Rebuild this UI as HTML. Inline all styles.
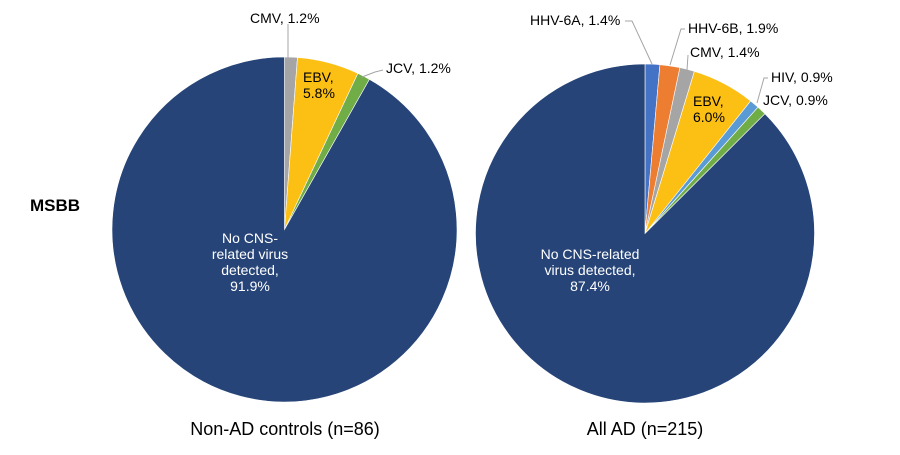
<!DOCTYPE html>
<html><head><meta charset="utf-8"><style>
html,body{margin:0;padding:0;background:#fff;}
svg text{font-family:"Liberation Sans",Arial,sans-serif;}
</style></head><body>
<svg id="c" width="900" height="450" viewBox="0 0 900 450">
<text x="30" y="211" font-size="17" font-weight="bold" fill="#000">MSBB</text>
<text x="285" y="435" font-size="18" text-anchor="middle" fill="#000">Non-AD controls (n=86)</text>
<text x="645" y="435" font-size="18" text-anchor="middle" fill="#000">All AD (n=215)</text>
</svg>
<script>
const leftCats = ["CMV","EBV","JCV","No CNS-related virus detected"];
const leftVals = [1.2,5.8,1.2,91.9];
const rightCats = ["HHV-6A","HHV-6B","CMV","EBV","HIV","JCV","No CNS-related virus detected"];
const rightVals = [1.4,1.9,1.4,6.0,0.9,0.9,87.4];
const colorMap = {"HHV-6A":"#4472c4","HHV-6B":"#ed7d31","CMV":"#a5a5a5","EBV":"#fcbf14","HIV":"#5b9bd5","JCV":"#70ad47","No CNS-related virus detected":"#264478"};
const NS="http://www.w3.org/2000/svg";
const svg=document.getElementById('c');
function pt(cx,cy,r,f){const a=f*2*Math.PI-Math.PI/2;return [cx+r*Math.cos(a),cy+r*Math.sin(a)];}
function drawPie(cx,cy,r,cats,vals,prefix){
  const tot=vals.reduce((a,b)=>a+b,0);let acc=0;
  cats.forEach((c,i)=>{
    const f0=acc/tot;acc+=vals[i];const f1=acc/tot;
    const p0=pt(cx,cy,r,f0),p1=pt(cx,cy,r,f1);
    const large=(f1-f0)>0.5?1:0;
    const p=document.createElementNS(NS,'path');
    p.setAttribute('d',`M${cx},${cy}L${p0[0]},${p0[1]}A${r},${r} 0 ${large} 1 ${p1[0]},${p1[1]}Z`);
    p.setAttribute('fill',colorMap[c]);
    p.setAttribute('stroke','#fff');p.setAttribute('stroke-width','0.6');
    
    
    svg.appendChild(p);
  });
}
drawPie(284.5,229.5,172.5,leftCats,leftVals,'left');
drawPie(645,233.5,169.5,rightCats,rightVals,'right');
function line(pts){const l=document.createElementNS(NS,'polyline');l.setAttribute('points',pts);l.setAttribute('fill','none');l.setAttribute('stroke','#a5a5a5');l.setAttribute('stroke-width','1');


svg.appendChild(l);}
function label(lines,x,y,fill,anchor,name){const t=document.createElementNS(NS,'text');t.setAttribute('x',x);t.setAttribute('y',y);t.setAttribute('font-size','14');t.setAttribute('fill',fill);t.setAttribute('text-anchor',anchor||'start');
lines.forEach((s,i)=>{const ts=document.createElementNS(NS,'tspan');ts.setAttribute('x',x);ts.setAttribute('dy',i?16:0);ts.textContent=s;t.appendChild(ts);});


svg.appendChild(t);}
line("288,24 288,58");
label(["CMV, "+leftVals[0]+"%"],250,23,"#000","start","left-label-cmv");
label(["EBV,",leftVals[1].toFixed(1)+"%"],303,82,"#000","start","left-label-ebv");
line("383,70 375,72 362,77");
label(["JCV, "+leftVals[2]+"%"],386,73,"#000","start","left-label-jcv");
label(["No CNS-","related virus","detected,",leftVals[3]+"%"],250,243,"#fff","middle","left-label-none");
line("625,21 632,21 652,64");
label(["HHV-6A, "+rightVals[0]+"%"],530,25,"#000","start","right-label-hhv6a");
line("685,29 681,29 670,65");
label(["HHV-6B, "+rightVals[1]+"%"],688,33,"#000","start","right-label-hhv6b");
line("688,55 687,70");
label(["CMV, "+rightVals[2]+"%"],690,57,"#000","start","right-label-cmv");
label(["EBV,",rightVals[3].toFixed(1)+"%"],693,106,"#000","start","right-label-ebv");
line("768,78 764,78 757,103");
label(["HIV, "+rightVals[4]+"%"],771,82,"#000","start","right-label-hiv");
label(["JCV, "+rightVals[5]+"%"],763,105,"#000","start","right-label-jcv");
label(["No CNS-related","virus detected,",rightVals[6]+"%"],590,259,"#fff","middle","right-label-none");
</script>
</body></html>
